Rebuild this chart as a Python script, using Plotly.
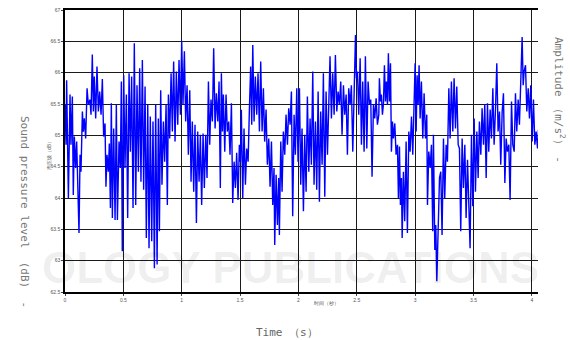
import plotly.graph_objects as go

# Time (s)
time_s = [
    0.000, 0.009, 0.014, 0.020, 0.029, 0.043, 0.051, 0.063, 0.071, 0.080,
    0.091, 0.100, 0.109, 0.120, 0.129, 0.137, 0.149, 0.157, 0.166, 0.177,
    0.189, 0.200, 0.214, 0.223, 0.234, 0.243, 0.251, 0.263, 0.274, 0.286,
    0.297, 0.309, 0.320, 0.331, 0.343, 0.351, 0.360, 0.371, 0.380, 0.389,
    0.397, 0.406, 0.417, 0.429, 0.440, 0.449, 0.463, 0.474, 0.483, 0.491,
    0.503, 0.514, 0.526, 0.537, 0.549, 0.560, 0.571, 0.583, 0.594, 0.606,
    0.617, 0.629, 0.640, 0.651, 0.663, 0.674, 0.686, 0.697, 0.709, 0.720,
    0.731, 0.743, 0.754, 0.766, 0.777, 0.789, 0.800, 0.809, 0.820, 0.831,
    0.843, 0.854, 0.866, 0.877, 0.886, 0.897, 0.909, 0.920, 0.931, 0.943,
    0.954, 0.966, 0.977, 0.989, 1.000, 1.011, 1.023, 1.034, 1.046, 1.057,
    1.069, 1.080, 1.091, 1.103, 1.114, 1.126, 1.137, 1.149, 1.160, 1.171,
    1.183, 1.194, 1.206, 1.217, 1.229, 1.240, 1.251, 1.263, 1.274, 1.286,
    1.297, 1.309, 1.320, 1.331,
    1.340, 1.349, 1.357, 1.369, 1.380, 1.391, 1.403, 1.414, 1.426, 1.437,
    1.449, 1.460, 1.471, 1.483, 1.494, 1.503, 1.511, 1.523, 1.534, 1.546,
    1.557, 1.569, 1.580, 1.591, 1.600, 1.609, 1.620, 1.631, 1.643, 1.654,
    1.666, 1.677, 1.689, 1.700, 1.711, 1.723, 1.734, 1.746, 1.757, 1.769,
    1.780, 1.791, 1.797, 1.809, 1.820, 1.831, 1.837, 1.849, 1.860, 1.871,
    1.883, 1.894, 1.906, 1.917, 1.929, 1.940, 1.951, 1.963, 1.974, 1.986,
    1.997, 2.009, 2.020, 2.031, 2.043, 2.054, 2.066, 2.077, 2.089, 2.100,
    2.111, 2.123, 2.134, 2.146, 2.157, 2.169, 2.180, 2.191, 2.203, 2.214,
    2.226, 2.237, 2.249, 2.260, 2.271, 2.283, 2.294, 2.306, 2.317, 2.329,
    2.340, 2.351, 2.363, 2.374, 2.386, 2.397, 2.409, 2.420, 2.431, 2.443,
    2.454, 2.466, 2.477, 2.489, 2.497, 2.506, 2.517, 2.529, 2.540, 2.551,
    2.563, 2.574, 2.586, 2.597, 2.609, 2.620, 2.631, 2.643, 2.654, 2.666,
    2.677, 2.689,
    2.694, 2.703, 2.711, 2.720, 2.729, 2.737, 2.746, 2.754, 2.763, 2.771,
    2.780, 2.789, 2.797, 2.806, 2.814, 2.826, 2.837, 2.849, 2.857, 2.866,
    2.874, 2.883, 2.889, 2.900, 2.911, 2.923, 2.934, 2.946, 2.957, 2.969,
    2.980, 2.991, 3.000, 3.009, 3.017, 3.026, 3.034, 3.043, 3.054, 3.066,
    3.077, 3.089, 3.100, 3.106, 3.117, 3.129, 3.140, 3.151, 3.157, 3.169,
    3.177, 3.186, 3.197, 3.209, 3.220, 3.231, 3.243, 3.254, 3.266, 3.277,
    3.289, 3.300, 3.311, 3.323, 3.334, 3.346, 3.357, 3.369, 3.380, 3.391,
    3.403, 3.414, 3.426, 3.437, 3.449, 3.460, 3.471, 3.483, 3.494, 3.506,
    3.517, 3.529, 3.540, 3.551, 3.563, 3.574, 3.586, 3.597, 3.609, 3.620,
    3.631, 3.643, 3.654, 3.666, 3.677, 3.689, 3.700, 3.711, 3.723, 3.734,
    3.746, 3.757, 3.769, 3.780, 3.791, 3.803, 3.814, 3.826, 3.837, 3.849,
    3.860, 3.871, 3.883, 3.894, 3.906, 3.917, 3.926, 3.934, 3.946, 3.957,
    3.969, 3.980, 3.991, 4.003, 4.014, 4.026, 4.037, 4.049, 4.057,
]

# Sound pressure level (dB)
spl_db = [
    65.49, 64.85, 65.88, 64.95, 64.00, 65.65, 64.85, 65.62, 64.05, 64.98,
    64.48, 64.90, 64.18, 63.44, 64.69, 64.42, 65.38, 65.06, 65.27, 64.95,
    65.75, 65.49, 65.57, 65.33, 66.29, 65.38, 65.94, 65.27, 66.10, 65.38,
    65.70, 65.33, 65.90, 64.98, 65.19, 64.18, 64.69, 64.42, 64.87, 63.84,
    65.51, 63.68, 65.11, 63.65, 65.49, 63.65, 64.90, 64.48, 65.86, 63.15,
    65.96, 64.48, 65.65, 63.68, 65.99, 64.74, 65.94, 63.84, 66.47, 63.89,
    65.80, 64.42, 66.07, 64.26, 66.20, 64.13, 65.78, 63.36, 65.49, 63.20,
    65.30, 63.31, 65.22, 62.88, 65.49, 62.94, 65.27, 63.47, 65.72, 64.21,
    65.22, 64.58, 65.49, 63.89, 65.65, 64.95, 65.99, 65.06, 66.18, 64.90,
    66.02, 65.17, 66.20, 65.33, 66.51, 65.49, 66.34, 65.22, 65.80, 64.69,
    65.72, 64.26, 65.22, 64.10, 65.17, 63.60, 65.06, 64.26, 65.01, 63.89,
    65.03, 64.16, 65.01, 64.32, 65.86, 64.85, 65.57, 65.22, 66.39, 65.11,
    65.67, 65.22, 65.86, 64.16,
    65.99, 65.06, 65.65, 64.74, 65.65, 65.06, 65.22, 64.69, 65.51, 63.92,
    64.58, 64.16, 64.72, 63.97, 64.85, 64.58, 65.41, 64.00, 65.11, 64.21,
    64.79, 64.58, 65.41, 66.10, 65.17, 66.44, 65.22, 65.94, 65.33, 65.99,
    65.06, 66.18, 65.06, 65.75, 64.90, 65.41, 64.53, 64.95, 64.18, 64.90,
    63.89, 64.48, 63.25, 64.37, 63.57, 64.32, 63.41, 64.90, 64.10, 65.06,
    64.69, 65.33, 64.85, 65.43, 65.17, 65.70, 63.71, 65.33, 64.69, 65.75,
    64.58, 65.75, 64.21, 65.11, 63.79, 65.01, 64.10, 65.62, 64.42, 65.27,
    64.53, 66.02, 64.21, 65.22, 64.13, 65.70, 63.94, 65.38, 64.53, 65.99,
    64.02, 65.70, 64.69, 65.54, 66.26, 65.27, 65.99, 65.33, 66.28, 65.38,
    65.70, 65.49, 65.86, 65.01, 65.80, 65.33, 65.65, 64.69, 65.75, 65.49,
    65.80, 64.74, 65.86, 66.60, 65.91, 66.02, 65.33, 66.23, 64.85, 65.86,
    64.74, 66.26, 64.79, 65.86, 65.49, 65.57, 64.34, 65.49, 65.27, 65.59,
    65.17, 65.33,
    65.91, 65.54, 65.65, 65.33, 65.51, 66.12, 65.54, 65.86, 65.49, 66.31,
    65.54, 66.15, 64.74, 65.22, 64.95, 65.19, 64.69, 64.85, 64.00, 64.82,
    63.89, 64.32, 63.36, 64.42, 63.63, 64.90, 63.44, 65.06, 64.74, 65.30,
    64.69, 65.75, 66.15, 65.06, 65.96, 65.49, 66.12, 65.27, 65.86, 64.95,
    65.67, 64.95, 65.33, 63.89, 64.74, 64.48, 64.85, 63.47, 65.01, 63.17,
    63.57, 62.67, 63.52, 64.32, 64.42, 63.41, 64.95, 64.00, 64.85, 64.58,
    65.75, 64.95, 65.86, 65.06, 65.91, 65.11, 65.78, 64.85, 64.79, 63.47,
    64.95, 64.16, 64.85, 63.68, 64.61, 63.84, 63.20, 65.01, 63.87, 65.27,
    64.10, 65.06, 64.32, 65.22, 64.69, 65.43, 64.85, 65.49, 64.32, 65.51,
    64.74, 65.41, 64.95, 65.75, 64.85, 65.43, 66.15, 65.06, 65.38, 64.53,
    65.38, 65.67, 64.24, 64.95, 64.74, 64.85, 63.97, 65.54, 64.85, 64.74,
    65.67, 65.06, 65.57, 65.17, 66.02, 66.57, 65.80, 66.02, 66.12, 65.38,
    65.75, 65.27, 65.80, 64.90, 65.57, 64.85, 65.06, 64.79, 65.09,
]

x_ticks = [0, 0.5, 1, 1.5, 2, 2.5, 3, 3.5, 4]
x_tick_labels = ["0", "0.5", "1", "1.5", "2", "2.5", "3", "3.5", "4"]
y_ticks = [62.5, 63, 63.5, 64, 64.5, 65, 65.5, 66, 66.5, 67]
y_tick_labels = ["62.5", "63", "63.5", "64", "64.5", "65", "65.5", "66", "66.5", "67"]

fig = go.Figure()
fig.add_trace(go.Scatter(
    x=time_s, y=spl_db, mode="lines",
    line=dict(color="#0000ff", width=1.4),
    showlegend=False, hoverinfo="skip",
))

grid = dict(showgrid=True, gridcolor="#1a1a1a", gridwidth=1.2, zeroline=False,
            showline=True, linecolor="#000000", linewidth=1.5,
            ticks="outside", ticklen=2, tickcolor="#444", automargin=False,
            tickfont=dict(size=5, color="#555", family="Liberation Sans"))

fig.update_layout(
    width=570, height=340,
    margin=dict(l=65, r=32, t=10, b=48),
    paper_bgcolor="white", plot_bgcolor="white",
    xaxis=dict(range=[0, 4.053], tickvals=x_ticks, ticktext=x_tick_labels,
               mirror=True, **grid),
    yaxis=dict(range=[62.5, 67], tickvals=y_ticks, ticktext=y_tick_labels,
               **grid),
    font=dict(family="Liberation Sans"),
)

# annotation positions in picture pixels, converted to paper coords below
annotations = [
    dict(text="<b>OLOGY PUBLICATIONS</b>", x=290, y=267, showarrow=False,
         font=dict(size=44, color="rgba(0,0,0,0.07)", family="Liberation Sans")),
    dict(text="时间（秒）", x=326, y=303, showarrow=False,
         font=dict(size=5, color="#555")),
    dict(text="声压级（dB）", x=49, y=155, showarrow=False,
         font=dict(size=5, color="#555"), textangle=-90),
    dict(text="Time （s）", x=287, y=332, showarrow=False,
         font=dict(size=11, color="#666", family="DejaVu Sans Mono")),
    dict(text="Sound pressure level  (dB)  -", x=25, y=212, showarrow=False,
         font=dict(size=11, color="#777", family="DejaVu Sans Mono"), textangle=90),
    dict(text="Amplitude （m/s<sup>2</sup>） -", x=560, y=100, showarrow=False,
         font=dict(size=11, color="#777", family="DejaVu Sans Mono"), textangle=90),
]

plot_l, plot_r, plot_t, plot_b = 65, 538, 10, 292
for a in annotations:
    a["xref"] = "paper"
    a["yref"] = "paper"
    a["xanchor"] = "center"
    a["yanchor"] = "middle"
    a["x"] = (a["x"] - plot_l) / (plot_r - plot_l)
    a["y"] = (plot_b - a["y"]) / (plot_b - plot_t)
fig.update_layout(annotations=annotations)

fig.write_html(
    "out.html",
    config={"displayModeBar": False},
    post_script="document.body.style.margin='0';document.body.style.padding='0';",
)
